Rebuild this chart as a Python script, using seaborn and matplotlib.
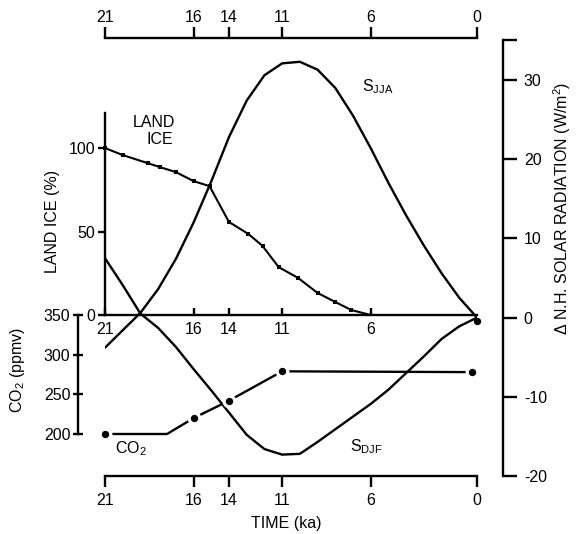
import matplotlib
matplotlib.use("Agg")
import matplotlib.pyplot as plt
import pandas as pd
import seaborn as sns

# Orbital insolation anomalies (W/m^2), Northern Hemisphere, every 1 ka
ka = [21, 20, 19, 18, 17, 16, 15, 14, 13, 12, 11, 10, 9, 8, 7, 6, 5, 4, 3, 2, 1, 0]
s_jja = [-3.8, -1.6, 0.6, 3.6, 7.4, 12.0, 17.2, 22.8, 27.4, 30.6, 32.1, 32.3,
         31.3, 29.0, 25.5, 21.4, 17.0, 12.9, 9.1, 5.6, 2.5, 0.0]
s_djf = [7.5, 4.1, 0.5, -1.3, -3.7, -6.5, -9.2, -12.0, -14.8, -16.6, -17.3, -17.2,
         -15.7, -14.1, -12.5, -10.9, -9.1, -7.0, -4.9, -2.7, -1.1, 0.0]

# Land ice volume (% of glacial maximum)
ice_ka = [21, 20, 18.6, 17.9, 17, 16, 15.1, 14, 12.9, 12.1, 11.2, 10.1, 9, 8, 7.1, 6]
ice_pct = [100, 95.8, 91, 88.6, 85.6, 80.2, 77.2, 55.7, 48.5, 41.3, 28.7, 22.2,
           13.2, 7.8, 3.0, 0]
ice_marked = [True] * 15 + [False]

# Atmospheric CO2 (ppmv)
co2_ka = [21, 17.5, 16, 14, 11, 0.3]
co2_ppmv = [200, 200, 220, 242, 279, 278]
co2_marked = [True, False, True, True, True, True]
co2_modern_ka = [0]
co2_modern_ppmv = [342]

time_ticks = [21, 16, 14, 11, 6, 0]
ice_time_ticks = [21, 16, 14, 11, 6]
solar_ticks = [30, 20, 10, 0, -10, -20]
ice_ticks = [100, 50, 0]
co2_ticks = [350, 300, 250, 200]

sns.set_style("white")
plt.rcParams["font.family"] = ["Liberation Sans", "DejaVu Sans"]
plt.rcParams["font.size"] = 11
plt.rcParams["axes.unicode_minus"] = False
plt.rcParams["axes.linewidth"] = 1.7
plt.rcParams["axes.edgecolor"] = "black"
plt.rcParams["text.color"] = "black"
plt.rcParams["axes.labelcolor"] = "black"
plt.rcParams["xtick.color"] = "black"
plt.rcParams["ytick.color"] = "black"

W, H = 576, 534
fig = plt.figure(figsize=(W / 100, H / 100), dpi=100)
fig.patch.set_facecolor("white")


def px_rect(left, top, right, bottom):
    return [left / W, 1 - bottom / H, (right - left) / W, (bottom - top) / H]


ax = fig.add_axes(px_rect(105, 40, 477, 476))
ax_ice = fig.add_axes(px_rect(105, 113, 477, 315))
ax_co2 = fig.add_axes(px_rect(105, 315, 477, 434))
for a in (ax, ax_ice, ax_co2):
    a.patch.set_visible(False)
    a.set_xlim(21, 0)

PT = 0.72  # points per pixel
FS = 11.5

# ---- solar radiation panel ----
solar = pd.DataFrame({"ka": ka, "S_JJA": s_jja, "S_DJF": s_djf})
sns.lineplot(data=solar, x="ka", y="S_JJA", ax=ax, color="black", lw=1.7)
sns.lineplot(data=solar, x="ka", y="S_DJF", ax=ax, color="black", lw=1.7)
ax.set_ylim(-20, 35.05)
ax.spines["left"].set_visible(False)
ax.spines["top"].set_visible(False)
ax.spines["right"].set_position(("outward", 26 * PT))
ax.yaxis.tick_right()
ax.yaxis.set_label_position("right")
ax.set_yticks(solar_ticks)
ax.set_yticks([35.05], minor=True)
ax.tick_params(axis="y", which="both", right=True, left=False, direction="out",
               length=10, width=1.7, pad=5, labelsize=FS)
ax.set_xticks(time_ticks)
ax.tick_params(axis="x", which="major", bottom=True, labelbottom=True, top=False,
               direction="out", length=8, width=1.7, pad=4, labelsize=FS)

# time axis repeated along the top
top = ax.secondary_xaxis("top")
top.set_xticks(time_ticks)
top.spines["top"].set_linewidth(1.7)
top.spines["top"].set_position(("outward", 2 * PT))
top.tick_params(axis="x", direction="out", length=8, width=1.7, pad=1.5,
                labelsize=FS)

ax.set_xlabel("TIME (ka)", fontsize=FS)
ax.set_ylabel("Δ N.H. SOLAR RADIATION (W/m$^\\mathregular{2}$)", fontsize=FS)
ax.text(6.49, 29.2, "S$_\\mathregular{JJA}$", ha="left", va="center", fontsize=FS)
ax.text(7.17, -16.3, "S$_\\mathregular{DJF}$", ha="left", va="center", fontsize=FS)

# ---- land ice panel ----
ice = pd.DataFrame({"ka": ice_ka, "pct": ice_pct, "marked": ice_marked})
sns.lineplot(data=ice, x="ka", y="pct", ax=ax_ice, color="black", lw=1.5,
             clip_on=False)
sns.scatterplot(data=ice[ice["marked"]], x="ka", y="pct", ax=ax_ice, marker="s",
                color="black", s=9, linewidth=0, clip_on=False, zorder=3)
ax_ice.set_ylim(0, 121)
ax_ice.spines["top"].set_visible(False)
ax_ice.spines["right"].set_visible(False)
ax_ice.set_yticks(ice_ticks)
ax_ice.tick_params(axis="y", left=True, direction="out", length=5, width=1.7,
                   pad=2, labelsize=FS)
ax_ice.set_xticks(ice_time_ticks)
ax_ice.tick_params(axis="x", bottom=True, direction="in", length=5, width=1.7,
                   pad=5, labelsize=FS)
ax_ice.set_xlabel("")
ax_ice.set_ylabel("LAND ICE (%)", fontsize=FS)
ax_ice.text(18.21, 115.6, "LAND", ha="center", va="center", fontsize=FS)
ax_ice.text(17.9, 105.4, "ICE", ha="center", va="center", fontsize=FS)

# ---- CO2 panel ----
co2 = pd.DataFrame({"ka": co2_ka, "ppmv": co2_ppmv, "marked": co2_marked})
sns.lineplot(data=co2, x="ka", y="ppmv", ax=ax_co2, color="black", lw=1.7,
             clip_on=False)
sns.scatterplot(data=co2[co2["marked"]], x="ka", y="ppmv", ax=ax_co2, color="white",
                s=100, linewidth=0, clip_on=False, zorder=3)
sns.scatterplot(data=co2[co2["marked"]], x="ka", y="ppmv", ax=ax_co2, color="black",
                s=28, linewidth=0, clip_on=False, zorder=4)
sns.scatterplot(x=co2_modern_ka, y=co2_modern_ppmv, ax=ax_co2, color="black",
                s=28, linewidth=0, clip_on=False, zorder=4)
ax_co2.set_ylim(200, 350)
for side in ("top", "right", "bottom"):
    ax_co2.spines[side].set_visible(False)
ax_co2.spines["left"].set_position(("outward", 27 * PT))
ax_co2.set_xticks([])
ax_co2.set_yticks(co2_ticks)
ax_co2.tick_params(axis="y", left=True, direction="inout", length=7, width=1.7,
                   pad=2, labelsize=FS)
ax_co2.set_xlabel("")
ax_co2.set_ylabel("CO$_\\mathregular{2}$ (ppmv)", fontsize=FS)
ax_co2.text(19.53, 181, "CO$_\\mathregular{2}$", ha="center", va="center", fontsize=FS)

# axis-title placement
for label in (ax.yaxis.label, ax_ice.yaxis.label, ax_co2.yaxis.label, ax.xaxis.label):
    label.set_rotation_mode("default")
    label.set_ha("center")
    label.set_va("center")
ax.yaxis.set_label_coords(1.2285, 0.6147)
ax.xaxis.set_label_coords(0.4866, -0.1078)
ax_ice.yaxis.set_label_coords(-0.1398, 0.465)
ax_co2.yaxis.set_label_coords(-0.2339, 0.538)

fig.savefig("out.png", dpi=100, facecolor="white")
